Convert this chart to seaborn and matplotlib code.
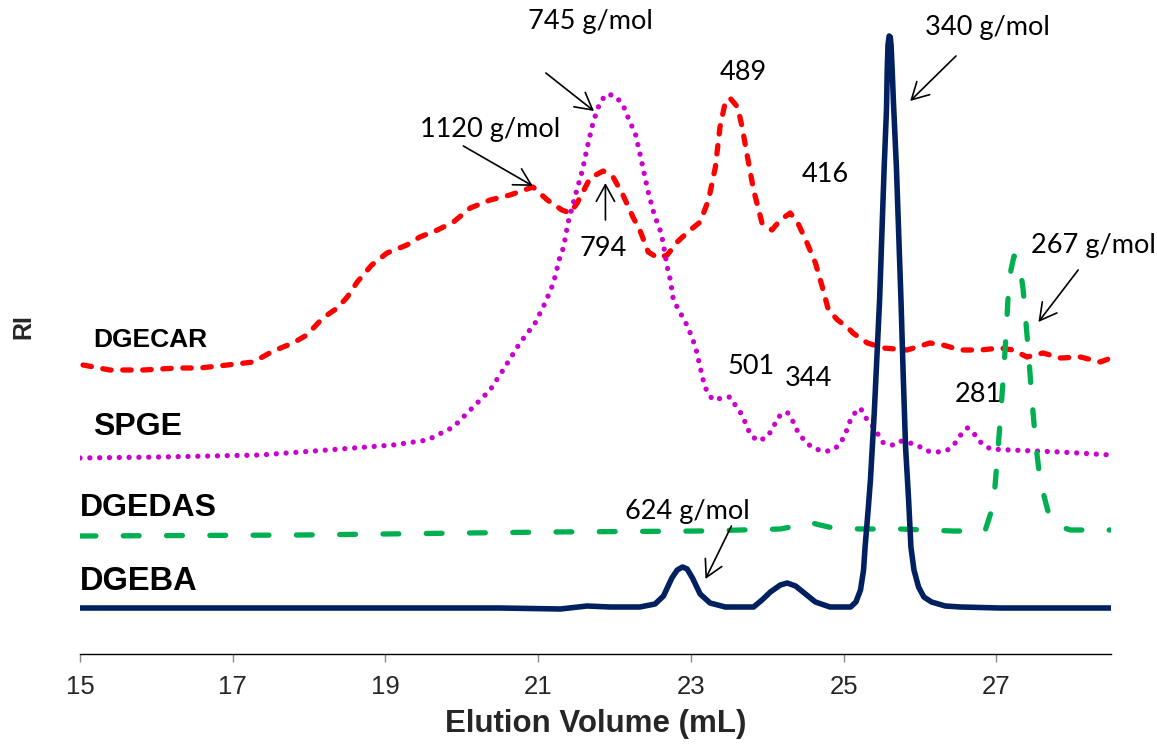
import matplotlib
matplotlib.use("Agg")
import matplotlib.pyplot as plt
import seaborn as sns
import pandas as pd

# ---------------- data (elution volume in mL, RI in arbitrary offset units) ----------------
dgeba_x = [15.00, 17.88, 20.50, 21.29, 21.64, 21.94, 22.33, 22.53, 22.64, 22.75, 22.82, 22.89,
           22.95, 23.02, 23.12, 23.25, 23.45, 23.82, 23.93, 24.04, 24.17, 24.26, 24.37, 24.50,
           24.63, 24.82, 25.09, 25.16, 25.22, 25.26, 25.28, 25.32, 25.35, 25.40, 25.47, 25.53,
           25.56, 25.57, 25.58, 25.595, 25.61, 25.62, 25.635, 25.65, 25.69, 25.75, 25.78, 25.81,
           25.85, 25.88, 25.92, 25.98, 26.05, 26.15, 26.33, 26.53, 27.05, 28.50]
dgeba_y = [46, 46, 46, 45, 48, 47, 47, 50, 58, 76, 84, 87,
           85, 76, 60, 51, 47, 47, 54, 62, 69, 71, 68, 60,
           52, 47, 47, 52, 64, 84, 107, 144, 174, 241, 354, 487,
           544, 584, 609, 618, 617, 609, 584, 554, 487, 354, 277, 207,
           154, 107, 84, 67, 57, 52, 48, 47, 46, 46]

dgedas_x = [15.00, 17.88, 21.16, 23.12, 24.17, 24.37, 24.54, 24.69, 24.86, 25.22, 25.74, 26.43,
            26.85, 26.96, 27.01, 27.05, 27.09, 27.13, 27.15, 27.19, 27.23, 27.29, 27.31, 27.35,
            27.38, 27.42, 27.46, 27.51, 27.57, 27.67, 27.77, 27.97, 28.50]
dgedas_y = [118, 119, 122, 123, 125, 128, 132, 129, 126, 125, 125, 123,
            123, 149, 194, 234, 277, 324, 354, 384, 398, 396, 387, 364,
            337, 301, 259, 214, 174, 144, 129, 124, 124]

spge_x = [15.00, 16.05, 17.36, 18.24, 19.10, 19.55, 19.89, 20.11, 20.37, 20.54, 20.76, 20.96,
          21.09, 21.20, 21.29, 21.33, 21.39, 21.48, 21.58, 21.64, 21.72, 21.81, 21.90, 22.01,
          22.11, 22.20, 22.27, 22.33, 22.40, 22.44, 22.51, 22.56, 22.61, 22.64, 22.69, 22.73,
          22.77, 22.89, 22.96, 23.06, 23.12, 23.16, 23.21, 23.29, 23.41, 23.51, 23.58, 23.67,
          23.78, 23.88, 24.00, 24.08, 24.14, 24.26, 24.34, 24.40, 24.50, 24.60, 24.72, 24.82,
          24.93, 25.02, 25.06, 25.12, 25.22, 25.28, 25.39, 25.52, 25.64, 25.74, 25.87, 25.98,
          26.09, 26.23, 26.36, 26.46, 26.55, 26.62, 26.70, 26.79, 26.92, 27.18, 27.84, 28.50]
spge_y = [196, 197, 199, 204, 209, 214, 227, 244, 264, 284, 311, 331,
          351, 371, 399, 406, 431, 457, 484, 506, 532, 552, 560, 558,
          549, 532, 521, 501, 476, 462, 442, 431, 421, 409, 387, 374,
          354, 337, 327, 307, 287, 274, 262, 254, 256, 257, 249, 239,
          219, 213, 217, 227, 237, 242, 232, 222, 212, 206, 203, 203,
          208, 219, 229, 239, 246, 237, 227, 211, 209, 213, 211, 208,
          203, 202, 204, 211, 221, 226, 221, 212, 205, 204, 202, 199]

dgecar_x = [15.04, 15.39, 15.83, 16.27, 16.57, 16.93, 17.27, 17.53, 17.79, 17.97, 18.18, 18.37,
            18.50, 18.63, 18.82, 19.02, 19.28, 19.45, 19.68, 19.89, 20.11, 20.37, 20.63, 20.93,
            21.12, 21.31, 21.42, 21.51, 21.68, 21.85, 21.98, 22.11, 22.24, 22.33, 22.44, 22.57,
            22.69, 22.82, 22.96, 23.12, 23.23, 23.32, 23.38, 23.45, 23.51, 23.61, 23.67, 23.74,
            23.82, 23.93, 24.06, 24.17, 24.30, 24.40, 24.52, 24.63, 24.72, 24.80, 24.92, 25.06,
            25.12, 25.31, 25.52, 25.83, 26.13, 26.30, 26.53, 26.79, 27.05, 27.22, 27.40, 27.61,
            27.84, 28.10, 28.36, 28.50]
dgecar_y = [289, 284, 284, 286, 286, 289, 292, 303, 311, 319, 336, 346,
            357, 372, 389, 401, 409, 417, 424, 432, 446, 454, 459, 467,
            454, 444, 441, 451, 476, 483, 477, 459, 437, 424, 402, 396,
            399, 412, 422, 432, 454, 487, 527, 552, 556, 547, 527, 497,
            464, 431, 424, 434, 441, 431, 411, 391, 367, 344, 334, 326,
            321, 311, 306, 304, 311, 309, 304, 304, 306, 304, 297, 301,
            296, 297, 292, 296]

series_names = ["DGECAR", "SPGE", "DGEDAS", "DGEBA"]
xticks = [15, 17, 19, 21, 23, 25, 27]

# annotations: (text, text_x, text_y)
labels_plain = [("501", 23.78, 287), ("344", 24.54, 275), ("281", 26.76, 259),
                ("489", 23.68, 581), ("416", 24.76, 479)]
# arrows: (text, text_x, text_y, arrow_start_x, arrow_start_y, tip_x, tip_y)
labels_arrow = [("745 g/mol", 21.69, 632, 21.10, 581, 21.73, 543),
                ("1120 g/mol", 20.37, 524, 20.02, 508, 20.93, 468),
                ("794", 21.85, 406, 21.88, 434, 21.88, 471),
                ("340 g/mol", 26.88, 627, 26.47, 598, 25.87, 553),
                ("267 g/mol", 28.27, 409, 28.07, 384, 27.55, 332),
                ("624 g/mol", 22.95, 142, 23.53, 128, 23.19, 75)]

# ---------------- drawing ----------------
sns.set_theme(style="white")
plt.rcParams["font.family"] = ["Liberation Sans", "DejaVu Sans"]

fig = plt.figure(figsize=(11.57, 7.44), dpi=100)
ax = fig.add_axes([80 / 1157, 90 / 744, 1031 / 1157, 654 / 744])

lw = 3.8
sns.lineplot(x=dgecar_x, y=dgecar_y, ax=ax, sort=False, estimator=None, color="#FF0000",
             linewidth=lw, linestyle=(0, (1.6, 2.2)), dash_capstyle="round")
sns.lineplot(x=spge_x, y=spge_y, ax=ax, sort=False, estimator=None, color="#CC00CC",
             linewidth=lw, linestyle=(0, (0.01, 1.85)), dash_capstyle="round")
sns.lineplot(x=dgedas_x, y=dgedas_y, ax=ax, sort=False, estimator=None, color="#00B050",
             linewidth=lw, linestyle=(0, (3, 5.2)), dash_capstyle="round")
sns.lineplot(x=dgeba_x, y=dgeba_y, ax=ax, sort=False, estimator=None, color="#002060",
             linewidth=4.0, solid_capstyle="round", solid_joinstyle="round")

ax.set_xlim(15, 28.5)
ax.set_ylim(0, 654)
ax.set_xticks(xticks)
ax.set_yticks([])
for s in ["left", "top", "right"]:
    ax.spines[s].set_visible(False)
ax.spines["bottom"].set_color("black")
ax.spines["bottom"].set_linewidth(1.0)
ax.tick_params(axis="x", direction="out", length=6, width=1, color="#888888",
               labelsize=18.5, pad=9, bottom=True)
ax.set_xlabel("Elution Volume (mL)", fontsize=22.5, fontweight="bold", labelpad=7)
ax.set_ylabel("RI", fontsize=18, fontweight="bold", labelpad=32)

# series labels
name_pos = {"DGECAR": (15.17, 314, 19), "SPGE": (15.17, 227, 23),
            "DGEDAS": (15.0, 146, 23), "DGEBA": (15.0, 72, 23.5)}
for n in series_names:
    x, y, fs = name_pos[n]
    ax.text(x, y, n, fontsize=fs, fontweight="bold", ha="left", va="center", color="black")

ann_font = ["Lato", "DejaVu Sans"]
for t, x, y in labels_plain:
    ax.text(x, y, t, fontsize=19.5, family=ann_font, ha="center", va="center", color="black")
for t, tx, ty, sx, sy, ex, ey in labels_arrow:
    ax.text(tx, ty, t, fontsize=19.5, family=ann_font, ha="center", va="center", color="black")
    ax.annotate("", xy=(ex, ey), xytext=(sx, sy),
                arrowprops=dict(arrowstyle="->,head_length=0.4,head_width=0.22",
                                mutation_scale=30, lw=1.2, color="black",
                                shrinkA=0, shrinkB=0))

fig.savefig("out.png", dpi=100)
